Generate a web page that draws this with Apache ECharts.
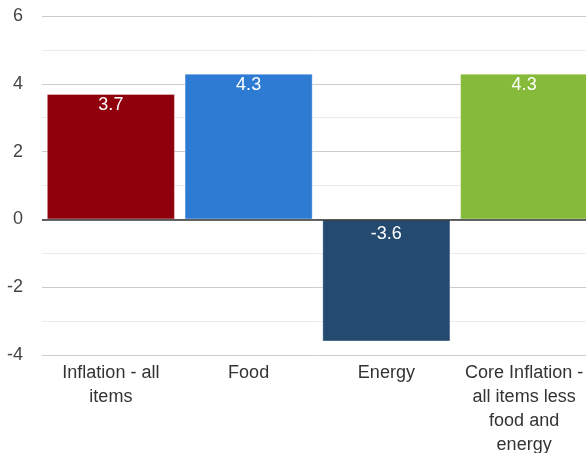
<!DOCTYPE html>
<html>
<head>
<meta charset="utf-8">
<script src="https://cdn.jsdelivr.net/npm/echarts@6/dist/echarts.min.js"></script>
<style>html,body{margin:0;padding:0;background:#fff}#c{width:586px;height:453px}</style>
</head>
<body>
<div id="c"></div>
<script>
const categories = ["Inflation - all\nitems", "Food", "Energy", "Core Inflation -\nall items less\nfood and\nenergy"];
const values = [3.7, 4.3, -3.6, 4.3];
const colors = ["#8f000c", "#2e7bd4", "#254a70", "#86bb3a"];
const yTicks = [-4, -2, 0, 2, 4, 6];

const chart = echarts.init(document.getElementById('c'));
const font = "'Liberation Sans', Arial, sans-serif";
chart.setOption({
  animation: false,
  grid: { left: 42, top: 16, height: 339, width: 551, containLabel: false, outerBoundsMode: 'none' },
  xAxis: {
    type: 'category',
    data: categories,
    axisLine: { show: false, onZero: false },
    axisTick: { show: false },
    axisLabel: { color: '#333', fontSize: 18, fontFamily: font, lineHeight: 24, margin: 6, interval: 0 }
  },
  yAxis: {
    type: 'value',
    min: yTicks[0], max: yTicks[yTicks.length - 1], interval: 2,
    axisLine: { show: false },
    axisTick: { show: false },
    axisLabel: { color: '#444', fontSize: 18, fontFamily: font, margin: 19, padding: [3, 0, 0, 0] },
    splitLine: { lineStyle: { color: '#cccccc', width: 1 } },
    minorTick: { show: false, splitNumber: 2 },
    minorSplitLine: { show: true, lineStyle: { color: '#ebebeb', width: 1 } }
  },
  series: [{
    type: 'bar',
    barCategoryGap: '7%',
    data: values.map((v, i) => ({
      value: v,
      itemStyle: { color: colors[i] },
      label: { distance: v < 0 ? 6 : 2 }
    })),
    itemStyle: { borderColor: 'rgba(255,255,255,0.35)', borderWidth: 1 },
    label: { show: true, position: 'insideTop', color: '#fff', fontSize: 18, fontFamily: font },
    markLine: {
      silent: true, symbol: 'none', label: { show: false },
      lineStyle: { color: '#333', width: 1.5, type: 'solid' },
      data: [{ yAxis: 0 }]
    }
  }]
});
</script>
</body>
</html>
